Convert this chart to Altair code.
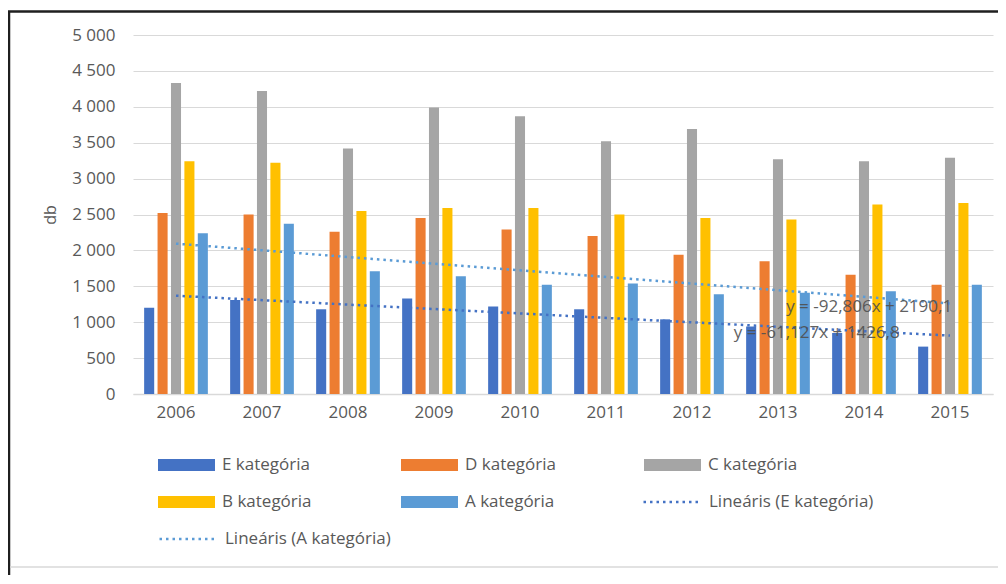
import altair as alt
import pandas as pd

years = [str(y) for y in range(2006, 2016)]
series = ["E kategória", "D kategória", "C kategória", "B kategória", "A kategória"]
e_vals = [1200, 1310, 1180, 1330, 1220, 1180, 1040, 940, 850, 660]
d_vals = [2520, 2500, 2260, 2450, 2290, 2200, 1940, 1850, 1660, 1520]
c_vals = [4330, 4220, 3420, 3990, 3870, 3520, 3690, 3270, 3240, 3290]
b_vals = [3240, 3220, 2550, 2590, 2590, 2500, 2450, 2430, 2640, 2660]
a_vals = [2240, 2370, 1710, 1640, 1520, 1540, 1390, 1410, 1430, 1520]
trend_e_label = "Lineáris (E kategória)"
trend_a_label = "Lineáris (A kategória)"
bar_colors = ["#4472C4", "#ED7D31", "#A5A5A5", "#FFC000", "#5B9BD5"]
trend_e_color = "#4472C4"
trend_a_color = "#5B9BD5"
eq_text = ["y = -92,806x + 2190,1", "y = -61,127x + 1426,8"]
eq_idx = [9.06, 8.45]
eq_val = [1210, 850]
y_ticks = list(range(0, 5001, 500))

rows = []
for s, vals in zip(series, [e_vals, d_vals, c_vals, b_vals, a_vals]):
    for i, (yr, v) in enumerate(zip(years, vals)):
        rows.append({"year": yr, "idx": i + 1, "series": s, "value": v})
df = pd.DataFrame(rows)
eq_df = pd.DataFrame({"text": eq_text, "idx": eq_idx, "value": eq_val})

FONT = "Open Sans"
GRAY = "#595959"
y_scale = alt.Scale(domain=[0, 5000], nice=False)
idx_scale = alt.Scale(domain=[0.5, 10.5], nice=False, zero=False)
RECT = "M-1,-0.21H1V0.21H-1Z"

y_axis = alt.Axis(values=y_ticks, title="db", grid=True, gridColor="#D9D9D9",
                  gridWidth=1.2, domain=False, ticks=False, labelPadding=18,
                  labelOverlap=False,
                  labelExpr="replace(format(datum.value, ','), ',', ' ')",
                  labelFont=FONT, labelFontSize=17, labelColor=GRAY,
                  titleFont=FONT, titleFontSize=16, titleColor=GRAY,
                  titleFontWeight="normal", titlePadding=13)

common_leg = dict(orient="none", title=None, symbolSize=3249, labelOffset=7, clipHeight=20,
                  labelFont=FONT, labelFontSize=17, labelColor=GRAY, labelLimit=400,
                  symbolOpacity=1, direction="horizontal")

bars = alt.Chart(df).mark_bar().encode(
    x=alt.X("year:N", sort=years,
            scale=alt.Scale(paddingInner=0.22, paddingOuter=0.11),
            axis=alt.Axis(title=None, labelAngle=0, ticks=False, domain=True,
                          domainColor="#D9D9D9", domainWidth=1.5, labelPadding=10,
                          labelFont=FONT, labelFontSize=17, labelColor=GRAY)),
    xOffset=alt.XOffset("series:N", sort=series,
                        scale=alt.Scale(paddingInner=0.25, paddingOuter=0.125)),
    y=alt.Y("value:Q", scale=y_scale, axis=y_axis),
    fill=alt.Fill("series:N", sort=series,
                  scale=alt.Scale(domain=series, range=bar_colors),
                  legend=alt.Legend(legendX=25, legendY=420, columns=3, rowPadding=17,
                                    columnPadding=88, gridAlign="all", symbolType=RECT,
                                    symbolStrokeWidth=0, **common_leg)),
)


def trend_layer(src, label, channel, color, lx, ly):
    leg = alt.Legend(legendX=lx, legendY=ly, symbolType="stroke", symbolDash=[2.5, 4],
                     symbolStrokeWidth=2.5, **common_leg)
    enc = channel("trend:N", scale=alt.Scale(domain=[label], range=[color]), legend=leg)
    base = alt.Chart(df).transform_filter(
        alt.datum.series == src
    ).transform_regression(
        "idx", "value", method="linear"
    ).transform_calculate(
        trend=f"'{label}'"
    ).mark_line(strokeDash=[2.5, 4], strokeWidth=2.5)
    kw = {"stroke" if channel is alt.Stroke else "color": enc}
    return base.encode(
        x=alt.X("idx:Q", scale=idx_scale, axis=None),
        y=alt.Y("value:Q", scale=y_scale, axis=y_axis),
        **kw,
    )


trend_e = trend_layer("E kategória", trend_e_label, alt.Stroke, trend_e_color, 509, 457)
trend_a = trend_layer("A kategória", trend_a_label, alt.Color, trend_a_color, 25, 494)

eqs = alt.Chart(eq_df).mark_text(font=FONT, fontSize=17, color="#505050", opacity=0.9).encode(
    x=alt.X("idx:Q", scale=idx_scale, axis=None),
    y=alt.Y("value:Q", scale=y_scale, axis=y_axis),
    text="text:N",
)

one = pd.DataFrame({"k": [0]})
frame = alt.Chart(one).mark_rect(fill="transparent", stroke="#1f1f1f", strokeWidth=2.5).encode(
    x=alt.value(-124), x2=alt.value(880), y=alt.value(-23.5), y2=alt.value(600)
)
bottom_line = alt.Chart(one).mark_rule(color="#D9D9D9", strokeWidth=1.5).encode(
    x=alt.value(-123), x2=alt.value(880), y=alt.value(532)
)

chart = alt.layer(bars, trend_e, trend_a, eqs, frame, bottom_line).resolve_scale(
    x="independent"
).properties(
    width=860, height=359,
    padding={"left": 125, "top": 27, "right": 5, "bottom": 181},
    autosize=alt.AutoSizeParams(type="none"),
).configure_view(strokeWidth=0)

chart.save("out.html", embed_options={"renderer": "svg", "actions": False})
